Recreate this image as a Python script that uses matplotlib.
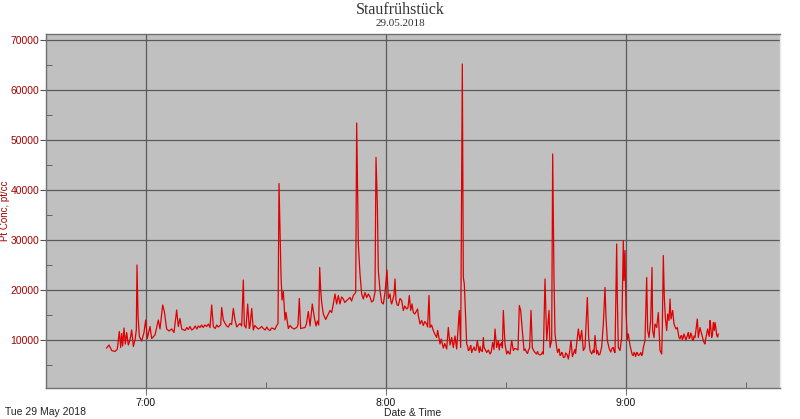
import matplotlib
matplotlib.use("Agg")
import matplotlib.pyplot as plt
from matplotlib.ticker import MultipleLocator, FixedLocator, FixedFormatter

# minutes after 7:00 (main readings)
minutes = [
    -9.83, -9.25, -8.58, -7.75, -7.17, -6.67, -6.33, -6.08, -5.83, -5.5, -5.17, -4.83, -4.42, -4.0,
    -3.58, -3.17, -2.75, -2.42, -2.25, -2.0, -1.67, -1.08, -0.5, -0.08, 0.33, 1.0, 1.42, 2.25, 3.08,
    3.5, 4.17, 4.58, 5.17, 5.75, 6.42, 7.0, 7.67, 8.08, 8.5, 8.92, 9.75, 10.58, 11.83, 13.5, 15.17,
    16.0, 16.42, 16.83, 18.08, 18.67, 18.92, 19.33, 20.17, 21.0, 21.83, 22.25, 23.08, 23.92, 24.33,
    24.58, 25.0, 25.42, 25.83, 26.42, 26.83, 27.67, 28.5, 29.33, 30.58, 31.83, 32.67, 33.0, 33.25,
    33.75, 34.0, 34.33, 34.75, 35.0, 35.58, 36.42, 37.67, 38.33, 38.67, 39.75, 40.58, 41.0, 41.58,
    42.08, 42.5, 42.83, 43.17, 43.42, 43.67, 43.92, 44.33, 44.92, 45.58, 46.0, 46.42, 46.83, 47.25,
    47.67, 48.08, 48.5, 49.33, 50.17, 51.0, 51.83, 52.42, 52.67, 53.08, 53.5, 53.92, 54.33, 54.75,
    55.17, 56.0, 56.83, 57.25, 57.5, 57.83, 58.08, 58.5, 58.92, 59.33, 59.75, 60.25, 60.58, 61.0,
    61.42, 61.83, 62.25, 62.5, 63.08, 63.92, 64.33, 65.17, 65.83, 66.17, 66.83, 67.67, 68.08, 68.5,
    68.92, 69.33, 70.17, 70.75, 71.0, 71.83, 72.67, 73.08, 73.5, 74.33, 75.17, 75.58, 76.0, 76.42,
    76.83, 77.25, 77.67, 78.33, 78.67, 79.08, 79.33, 79.58, 79.92, 80.17, 80.58, 81.0, 81.42, 81.83,
    82.25, 82.83, 83.33, 83.75, 84.33, 84.75, 85.17, 86.0, 86.67, 87.25, 87.67, 88.08, 88.5, 88.92,
    89.33, 89.75, 90.17, 91.0, 91.42, 91.83, 92.67, 93.33, 93.67, 94.17, 94.5, 95.17, 95.58, 96.25,
    96.58, 97.25, 98.08, 98.92, 99.33, 99.75, 100.17, 100.75, 101.0, 101.42, 101.67, 102.0, 102.25,
    102.67, 103.08, 103.5, 103.92, 104.33, 105.17, 105.58, 106.25, 106.83, 107.67, 108.08, 108.5,
    108.92, 109.33, 109.75, 110.33, 110.67, 111.0, 111.42, 112.25, 112.67, 113.5, 113.92, 114.33,
    114.75, 115.0, 115.33, 115.83, 116.42, 116.83, 117.25, 117.67, 117.83, 118.08, 118.5, 118.92,
    119.33, 119.5, 119.75, 120.0, 120.33, 120.58, 121.0, 121.42, 121.83, 122.25, 122.67, 123.08,
    123.5, 123.92, 124.33, 124.75, 125.17, 125.42, 125.75, 126.17, 126.5, 126.67, 127.0, 127.25,
    127.67, 128.08, 128.5, 128.92, 129.08, 129.33, 129.58, 129.83, 130.17, 130.42, 130.75, 131.0,
    131.25, 131.67, 132.0, 132.5, 132.83, 133.25, 133.5, 133.92, 134.33, 134.75, 135.17, 135.58,
    136.0, 136.42, 136.83, 137.25, 137.83, 138.08, 138.5, 138.92, 139.33, 139.75, 140.17, 140.58,
    141.0, 141.42, 141.83, 142.08, 142.25, 142.67, 143.08,
]

conc = [
    8400, 9000, 7900, 7700, 8200, 11700, 8500, 11300, 8800, 12400, 9200, 11500, 9000, 10000,
    12000, 8700, 10000, 12000, 25000, 15000, 10700, 9800, 11500, 14000, 10300, 12700, 10300, 11000, 14000,
    12200, 17000, 15700, 12200, 11800, 12200, 11500, 16000, 12700, 14300, 12200, 11900, 12100, 12200, 12500, 12700,
    12500, 17000, 12700, 12600, 13000, 16500, 14000, 12800, 13300, 16300, 14000, 13000, 12800, 22000,
    13000, 12400, 17200, 12300, 16300, 12000, 12500, 12400, 12300, 12100, 12300, 12900, 13300, 41300,
    23000, 18000, 19700, 14000, 15500, 12300, 12500, 12500, 18300, 12300, 12500, 15700, 12800, 17200,
    14500, 12800, 13800, 13000, 24500, 20000, 17500, 15200, 14100, 15200, 15900, 15500, 17200, 19200,
    17200, 18900, 17200, 18200, 17900, 18500, 18900, 19500, 53400, 29200, 23200, 19200, 18200, 19500,
    18500, 18600, 17900, 19500, 46500, 37200, 23900, 19900, 17500, 17200, 19500, 24000, 18300, 19200,
    17200, 18500, 22200, 17900, 16900, 17900, 15900, 16200, 18900, 15900, 15500, 15900, 14900, 13200,
    13900, 12900, 13200, 18900, 12500, 11900, 10500, 11200, 9200, 8400, 8200, 12500, 9000, 10500,
    8500, 10800, 8200, 15900, 8500, 65200, 22500, 21200, 14500, 9200, 7900, 8500, 7500, 8200,
    7900, 9900, 7500, 7900, 10500, 8200, 7500, 7200, 9500, 12200, 8500, 9900, 9200, 9500,
    15900, 9200, 7200, 7200, 9900, 7900, 8200, 16900, 15900, 11200, 7900, 7500, 7900, 15900,
    8500, 7500, 7200, 7200, 7200, 22200, 9900, 15900, 8500, 10000, 47200, 22200, 11200,
    8500, 7900, 6900, 7500, 6500, 7200, 6200, 9900, 7200, 9200, 12200, 9900,
    11900, 7900, 8500, 18500, 10500, 7900, 7200, 10900, 7200, 7200, 8600, 13200,
    20500, 14500, 9900, 8200, 8200, 8500, 7500, 29200, 18500, 8500, 7900, 10500,
    29900, 21900, 27900, 15500, 10100, 11200, 8900, 7500, 6900, 7200, 7500, 6900,
    7200, 6900, 8500, 9900, 22500, 11900, 10500, 13900, 24500, 11900, 10500, 13200,
    12500, 15500, 7900, 7200, 12500, 26900, 18500, 14500, 11900, 15200, 13900, 18200,
    14200, 15900, 13200, 12200, 12500, 10500, 10200, 10900, 10500, 10600, 10500, 11500,
    10500, 10900, 9900, 10500, 14200, 10500, 12500, 11200, 9900, 9200, 11200, 11500,
    13900, 10500, 13500, 11900, 13500, 10900, 11200,
]

# extra readings of the small-scale jitter in the flatter stretches
detail_minutes = [
    10.2, 11.0, 11.4, 12.3, 12.7, 13.1, 13.9, 14.3, 14.7, 15.6,
    17.3, 17.7, 19.8, 20.6, 21.4, 22.7, 23.5, 26.0, 27.2, 28.1, 28.9, 29.8, 30.2, 31.0, 31.4, 32.2,
    36.0, 37.0, 38.0, 39.2, 40.1,
    48.9, 49.7, 50.6, 51.4, 52.1, 55.6, 56.4,
    61.2, 62.0, 62.8, 63.5, 64.7, 65.5, 66.5, 67.2, 67.9, 69.7, 70.4, 71.4, 72.2, 72.9, 73.8, 74.7,
    80.4, 80.8, 81.2, 81.6, 82.0, 82.5, 83.1, 83.5, 84.1, 84.5, 85.6, 86.3, 87.0, 88.3, 88.7, 89.1,
    90.5, 90.8,
    92.2, 93.0, 94.8, 95.4, 95.9, 96.9, 97.6, 97.9, 98.5, 99.1,
    102.9, 103.3, 103.7, 104.1, 104.7, 104.9, 105.4, 105.9, 106.6, 107.2, 107.4,
    111.8, 112.0, 112.9, 113.2, 116.2, 116.6, 117.0,
    121.2, 121.6, 122.0, 122.4, 122.9, 123.3, 123.7, 124.1,
    133.7, 134.1, 134.5, 135.0, 135.4, 135.8, 136.2, 136.6, 137.0, 139.1, 139.5, 139.9, 140.4,
    140.8, 141.2, 141.6, 142.5, 142.9,
]
detail_conc = [
    12500, 12700, 12000, 12800, 12200, 12800, 13000, 12500, 13000, 13200,
    12300, 13000, 13300, 12600, 13100, 12600, 13300, 12800, 12900, 12200, 12700, 12000, 12600, 11900, 12400, 12100,
    12900, 12200, 13000, 12400, 13200,
    18600, 17500, 18200, 17800, 19200, 19200, 17600,
    17800, 19000, 17000, 18300, 16800, 16500, 17200, 15200, 16200, 13700, 12600, 13000, 11200, 11900, 10200, 9300,
    8800, 8000, 8900, 8100, 8600, 8000, 8400, 8700, 7700, 8600, 8000, 7600, 8100, 8000, 9000, 8400,
    7800, 7300,
    8300, 8000, 8200, 7300, 8400, 7900, 7200, 7700, 7000, 7600,
    7500, 8200, 7000, 7400, 6600, 7400, 6800, 7600, 6700, 8100, 7300,
    8000, 7500, 7900, 7000, 7600, 8400, 7800,
    8200, 7000, 7500, 6700, 7400, 7000, 7500, 7100,
    10800, 10100, 11200, 10000, 11000, 10300, 11400, 10100, 10800, 10600, 9500, 10200, 12200,
    10700, 12500, 11000, 12300, 10600,
]

hour_ticks = [0, 60, 120]
hour_labels = ["7:00", "8:00", "9:00"]
y_ticks = [10000, 20000, 30000, 40000, 50000, 60000, 70000]

title = "Staufrühstück"
subtitle = "29.05.2018"
date_label = "Tue 29 May 2018"
x_label = "Date & Time"
y_label = "Pt Conc, pt/cc"

sans = ["Liberation Sans", "DejaVu Sans"]
serif = ["Liberation Serif", "DejaVu Serif"]
dark_red = "#a40000"

# merge the two sets of readings in time order
pairs = sorted(zip(minutes + detail_minutes, conc + detail_conc))
t_all = [p[0] for p in pairs]
v_all = [p[1] for p in pairs]

fig = plt.figure(figsize=(8.0, 4.19), dpi=100)
ax = fig.add_axes([46 / 800, 1 - 388 / 419, 734 / 800, 354 / 419])
ax.set_facecolor("#c0c0c0")

ax.plot(t_all, v_all, color="#e00000", lw=0.9, zorder=3)

ax.set_xlim(-25, 158.5)
ax.set_ylim(400, 71200)

ax.xaxis.set_major_locator(FixedLocator(hour_ticks))
ax.xaxis.set_major_formatter(FixedFormatter(hour_labels))
ax.xaxis.set_minor_locator(FixedLocator([30, 90, 150]))
ax.yaxis.set_major_locator(FixedLocator(y_ticks))
ax.yaxis.set_minor_locator(MultipleLocator(5000))

ax.grid(True, which="major", color="#5a5a5a", lw=0.9, zorder=1)

ax.tick_params(axis="y", which="major", direction="out", length=4, color="#555555",
               labelcolor=dark_red, labelsize=7.5, pad=1)
ax.tick_params(axis="y", which="minor", direction="in", length=4, color="#555555")
ax.tick_params(axis="x", which="major", direction="out", length=5, color="#777777",
               labelcolor="#111111", labelsize=7.5, pad=2)
ax.tick_params(axis="x", which="minor", direction="in", length=4, color="#555555")
for lab in ax.get_xticklabels() + ax.get_yticklabels():
    lab.set_family(sans)

for side, sp in ax.spines.items():
    sp.set_color("#707070")
    sp.set_linewidth(1.0)
ax.spines["right"].set_color("#e8e8e8")

fig.text(0.5, 1 - 10 / 419, title, ha="center", va="center", family=serif,
         fontsize=11.5, color="#333333")
fig.text(0.5, 1 - 23 / 419, subtitle, ha="center", va="center", family=serif,
         fontsize=8, color="#333333")
fig.text(5 / 800, 1 - 412 / 419, date_label, ha="left", va="center", family=sans,
         fontsize=7.5, color="#222222")
fig.text(413 / 800, 1 - 413 / 419, x_label, ha="center", va="center", family=sans,
         fontsize=7.5, color="#222222")
fig.text(5 / 800, 1 - 211 / 419, y_label, ha="center", va="center", rotation=90,
         family=sans, fontsize=7, color=dark_red)

fig.savefig("out.png", dpi=100)
